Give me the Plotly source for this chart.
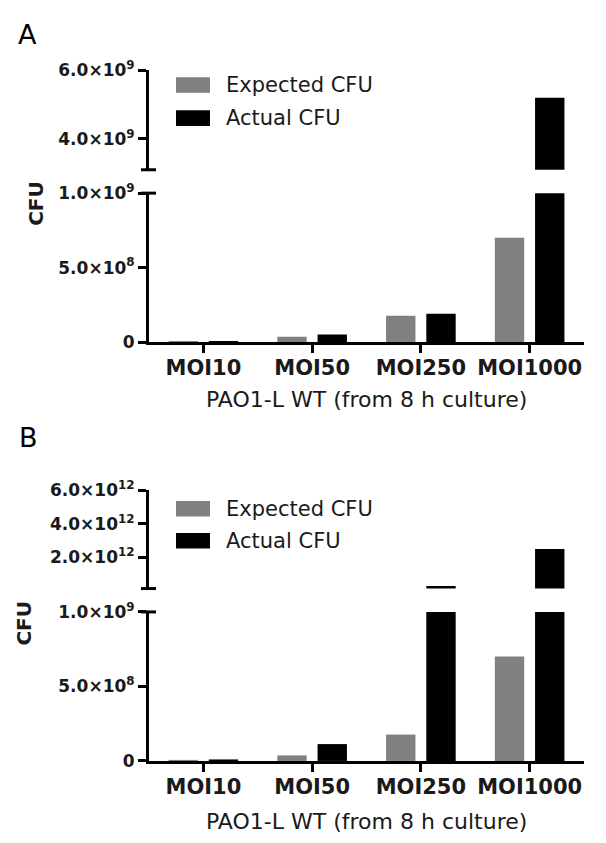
import plotly.graph_objects as go

W, H = 606, 843

# ---- data ----
categories = ["MOI10", "MOI50", "MOI250", "MOI1000"]
expected_cfu = [7.0e6, 3.7e7, 1.77e8, 7.0e8]
actual_cfu_a = [8.0e6, 5.2e7, 1.9e8, 5.2e9]
actual_cfu_b = [1.0e7, 1.13e8, 3.0e11, 2.5e12]

lower_ticks = [0, 5e8, 1e9]
lower_ticktext = ["0", "5.0×10<sup>8</sup>", "1.0×10<sup>9</sup>"]
upper_ticks_a = [4e9, 6e9]
upper_ticktext_a = ["4.0×10<sup>9</sup>", "6.0×10<sup>9</sup>"]
upper_ticks_b = [2e12, 4e12, 6e12]
upper_ticktext_b = ["2.0×10<sup>12</sup>", "4.0×10<sup>12</sup>", "6.0×10<sup>12</sup>"]

x_title = "PAO1-L WT (from 8 h culture)"
series_names = ["Expected CFU", "Actual CFU"]
colors = ["#808080", "#000000"]

FONT = "DejaVu Sans"


def px(x):
    return x / W


def py(y):
    return 1 - y / H


fig = go.Figure()

# Each panel: lower segment 0..1e9 and an upper segment above the break
panels = [
    dict(x="x", ylow="y", yup="y2", actual=actual_cfu_a),
    dict(x="x2", ylow="y3", yup="y4", actual=actual_cfu_b),
]
for p in panels:
    for yax in (p["ylow"], p["yup"]):
        for name, vals, col in zip(series_names, [expected_cfu, p["actual"]], colors):
            fig.add_trace(go.Bar(
                x=categories, y=vals, name=name, xaxis=p["x"], yaxis=yax,
                marker=dict(color=col, line=dict(width=0)), showlegend=False,
            ))

xdom = [px(149), px(584)]
axis_common = dict(showline=True, linecolor="black", linewidth=3, ticks="outside",
                   ticklen=8, tickwidth=3, tickcolor="black", showgrid=False,
                   zeroline=False, tickfont=dict(family=FONT, size=17, color="#1a1a1a",
                                                 weight="bold"))
xaxis_common = dict(showline=True, linecolor="black", linewidth=3, ticks="outside",
                    ticklen=8, tickwidth=3, tickcolor="black", showgrid=False,
                    type="category", range=[-0.5, 3.5], domain=xdom,
                    ticklabelstandoff=-3,
                    tickfont=dict(family=FONT, size=21, color="#1a1a1a", weight="bold"))

fig.update_layout(
    width=W, height=H, margin=dict(l=0, r=0, t=0, b=0),
    paper_bgcolor="white", plot_bgcolor="white",
    barmode="group", bargap=0.26, bargroupgap=0.27,
    xaxis=dict(anchor="y", **xaxis_common),
    xaxis2=dict(anchor="y3", **xaxis_common),
    yaxis=dict(anchor="x", domain=[py(339), py(186)], range=[0, 1e9],
               tickvals=lower_ticks, ticktext=lower_ticktext, **axis_common),
    yaxis2=dict(anchor="x", domain=[py(162), py(60)], range=[3.1e9, 6e9],
                tickvals=upper_ticks_a, ticktext=upper_ticktext_a, **axis_common),
    yaxis3=dict(anchor="x2", domain=[py(769), py(616)], range=[0, 1e9],
                tickvals=lower_ticks, ticktext=lower_ticktext, **axis_common),
    yaxis4=dict(anchor="x2", domain=[py(592), py(491)], range=[0.15e12, 6e12],
                tickvals=upper_ticks_b, ticktext=upper_ticktext_b, **axis_common),
)

shapes = []
annotations = []

# end caps at the axis break
for ycap in (162, 186, 592, 616):
    shapes.append(dict(type="line", xref="paper", yref="paper",
                       x0=px(141), x1=px(156), y0=py(ycap), y1=py(ycap),
                       line=dict(color="black", width=3)))

# legends, y titles, x titles and panel letters
for letter, (lx, ly), (cx, cy), leg_y, xt_y in [
    ("A", (27, 23), (36, 197), (75, 109), 398),
    ("B", (28, 437), (24, 628), (510, 543), 831),
]:
    annotations.append(dict(text=letter, x=px(lx), y=py(ly), xref="paper", yref="paper",
                            showarrow=False, xanchor="center", yanchor="middle",
                            font=dict(family=FONT, size=27, color="black")))
    annotations.append(dict(text="CFU", x=px(cx), y=py(cy), xref="paper", yref="paper",
                            showarrow=False, textangle=-90, xanchor="center", yanchor="middle",
                            font=dict(family=FONT, size=20, color="#1a1a1a", weight="bold")))
    annotations.append(dict(text=x_title, x=(xdom[0] + xdom[1]) / 2, y=py(xt_y),
                            xref="paper", yref="paper", showarrow=False,
                            xanchor="center", yanchor="middle",
                            font=dict(family=FONT, size=22, color="#1a1a1a")))
    for name, col, yy in zip(series_names, colors, leg_y):
        shapes.append(dict(type="rect", xref="paper", yref="paper",
                           x0=px(176), x1=px(210), y0=py(yy - 8), y1=py(yy + 8),
                           fillcolor=col, line=dict(width=0)))
        annotations.append(dict(text=name, x=px(224), y=py(yy), xref="paper", yref="paper",
                                showarrow=False, xanchor="left", yanchor="middle",
                                font=dict(family=FONT, size=21, color="#1a1a1a")))

fig.update_layout(shapes=shapes, annotations=annotations)

fig.write_html("out.html")
